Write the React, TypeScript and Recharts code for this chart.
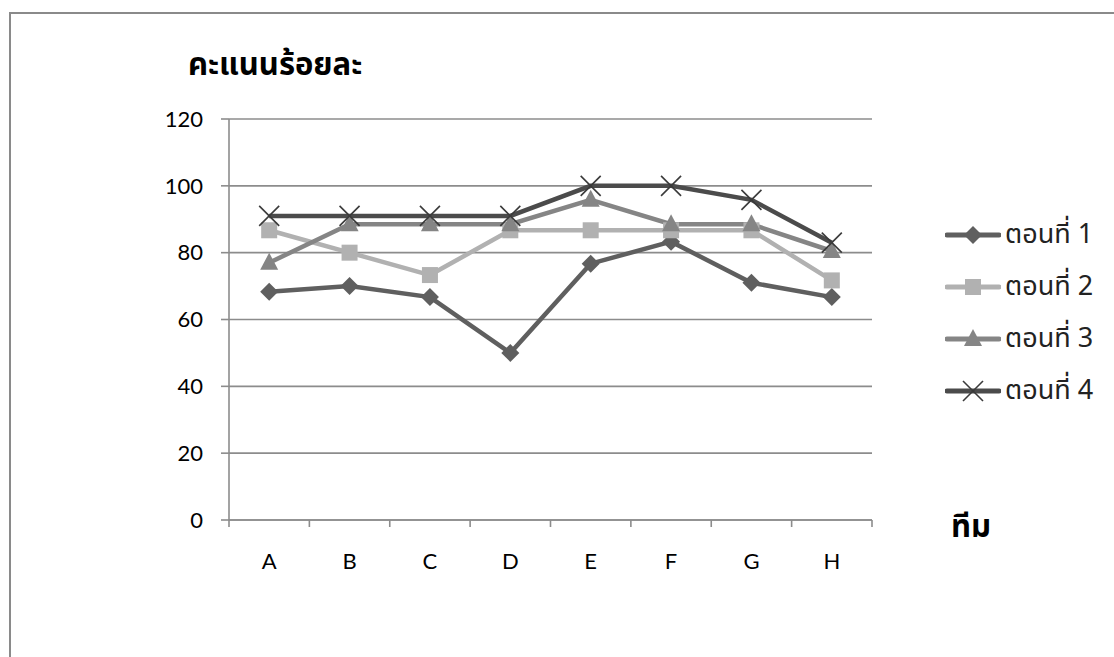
import React from 'react';
import { LineChart, Line, XAxis, YAxis, CartesianGrid } from 'recharts';

const teams = ['A', 'B', 'C', 'D', 'E', 'F', 'G', 'H'];
const part1 = [68.3, 70, 66.7, 50, 76.7, 83.3, 71, 66.7];
const part2 = [86.7, 80, 73.3, 86.7, 86.7, 86.7, 86.7, 71.7];
const part3 = [77, 88.5, 88.5, 88.5, 95.8, 88.5, 88.5, 80.5];
const part4 = [91, 91, 91, 91, 100, 100, 95.8, 83];
const yTicks = [0, 20, 40, 60, 80, 100, 120];
const boundaryTicks = [0, 1, 2, 3, 4, 5, 6, 7, 8];
const seriesNames = ['ตอนที่ 1', 'ตอนที่ 2', 'ตอนที่ 3', 'ตอนที่ 4'];
const yTitle = 'คะแนนร้อยละ';
const xTitle = 'ทีม';

const data = teams.map((t, i) => ({
  team: t,
  slot: i + 1,
  s1: part1[i],
  s2: part2[i],
  s3: part3[i],
  s4: part4[i],
}));

const COLORS = ['#5f5f5f', '#b1b1b1', '#858585', '#4b4b4b'];
const GRID = '#8c8c8c';
const FONT = "Lato, 'Noto Sans', sans-serif";
const THAI = "Tahoma, 'Noto Sans Thai', 'Leelawadee UI', 'Noto Sans', 'DejaVu Sans', sans-serif";

type MarkerKind = 'diamond' | 'square' | 'triangle' | 'x';
const MARKERS: MarkerKind[] = ['diamond', 'square', 'triangle', 'x'];

function Marker({ kind, cx, cy, color }: { kind: MarkerKind; cx: number; cy: number; color: string }) {
  if (kind === 'diamond') {
    return <polygon points={`${cx},${cy - 9} ${cx + 9},${cy} ${cx},${cy + 9} ${cx - 9},${cy}`} fill={color} />;
  }
  if (kind === 'square') {
    return <rect x={cx - 8} y={cy - 8} width={16} height={16} fill={color} />;
  }
  if (kind === 'triangle') {
    return <polygon points={`${cx},${cy - 10} ${cx + 9},${cy + 7} ${cx - 9},${cy + 7}`} fill={color} />;
  }
  return (
    <g stroke="#3a3a3a" strokeWidth={1.6}>
      <line x1={cx - 10} y1={cy - 10} x2={cx + 10} y2={cy + 10} />
      <line x1={cx - 10} y1={cy + 10} x2={cx + 10} y2={cy - 10} />
    </g>
  );
}

const makeDot = (idx: number) => (props: any) => {
  const { cx, cy, index } = props;
  if (cx == null || cy == null) return <g key={`d${idx}-${index}`} />;
  return (
    <g key={`d${idx}-${index}`}>
      <Marker kind={MARKERS[idx]} cx={cx} cy={cy} color={COLORS[idx]} />
    </g>
  );
};

const EmptyTick = () => <g />;

const LegendBox = () => (
  <div style={{ position: 'absolute', left: 945, top: 209 }}>
    {seriesNames.map((name, i) => (
      <div key={name} style={{ display: 'flex', alignItems: 'center', height: 52 }}>
        <svg width={56} height={24} style={{ display: 'block' }}>
          <line x1={2} y1={12} x2={54} y2={12} stroke={COLORS[i]} strokeWidth={5} strokeLinecap="round" />
          <Marker kind={MARKERS[i]} cx={28} cy={12} color={COLORS[i]} />
        </svg>
        <span style={{ fontFamily: THAI, fontSize: 27, color: '#222', marginLeft: 4, lineHeight: '28px' }}>{name}</span>
      </div>
    ))}
  </div>
);

export default function App() {
  return (
    <div style={{ position: 'absolute', left: 0, top: 0, width: 1114, height: 657, background: '#fff', overflow: 'hidden' }}>
      <div
        style={{
          position: 'absolute',
          left: 9,
          top: 12,
          width: 1200,
          height: 800,
          border: '2px solid #8a8a8a',
          boxSizing: 'border-box',
        }}
      />
      <div
        style={{
          position: 'absolute',
          left: 188,
          top: 44,
          fontFamily: THAI,
          fontWeight: 'bold',
          fontSize: 31,
          color: '#000',
          whiteSpace: 'nowrap',
          lineHeight: '44px',
        }}
      >
        {yTitle}
      </div>
      <div
        style={{
          position: 'absolute',
          left: 951,
          top: 506,
          fontFamily: THAI,
          fontWeight: 'bold',
          fontSize: 31,
          color: '#000',
          whiteSpace: 'nowrap',
          lineHeight: '44px',
        }}
      >
        {xTitle}
      </div>
      <div style={{ position: 'absolute', left: 0, top: 0 }}>
        <LineChart
          width={1114}
          height={657}
          data={data}
          margin={{ top: 119, right: 242, bottom: 96, left: 169 }}
        >
          <CartesianGrid vertical={false} stroke={GRID} strokeWidth={1.6} />
          <XAxis
            xAxisId="a_ticks"
            type="number"
            dataKey="slot"
            domain={[0, 8]}
            allowDataOverflow
            ticks={boundaryTicks}
            interval={0}
            tick={<EmptyTick />}
            height={1}
            tickSize={7}
            axisLine={{ stroke: GRID, strokeWidth: 1.6 }}
            tickLine={{ stroke: GRID, strokeWidth: 1.6 }}
          />
          <XAxis
            xAxisId="b_cat"
            dataKey="team"
            scale="band"
            height={40}
            axisLine={false}
            tickLine={false}
            tickSize={0}
            tickMargin={32}
            tick={{ fill: '#000', fontSize: 22, fontFamily: FONT }}
            interval={0}
          />
          <YAxis
            domain={[0, 120]}
            ticks={yTicks}
            width={60}
            tickSize={8}
            tickMargin={18}
            axisLine={{ stroke: GRID, strokeWidth: 1.6 }}
            tickLine={{ stroke: GRID, strokeWidth: 1.6 }}
            tick={{ fill: '#000', fontSize: 22, fontFamily: FONT }}
          />
          <Line xAxisId="b_cat" dataKey="s1" name={seriesNames[0]} stroke={COLORS[0]} strokeWidth={4.5} dot={makeDot(0)} isAnimationActive={false} />
          <Line xAxisId="b_cat" dataKey="s2" name={seriesNames[1]} stroke={COLORS[1]} strokeWidth={4.5} dot={makeDot(1)} isAnimationActive={false} />
          <Line xAxisId="b_cat" dataKey="s3" name={seriesNames[2]} stroke={COLORS[2]} strokeWidth={4.5} dot={makeDot(2)} isAnimationActive={false} />
          <Line xAxisId="b_cat" dataKey="s4" name={seriesNames[3]} stroke={COLORS[3]} strokeWidth={4.5} dot={makeDot(3)} isAnimationActive={false} />
        </LineChart>
      </div>
      <LegendBox />
    </div>
  );
}
